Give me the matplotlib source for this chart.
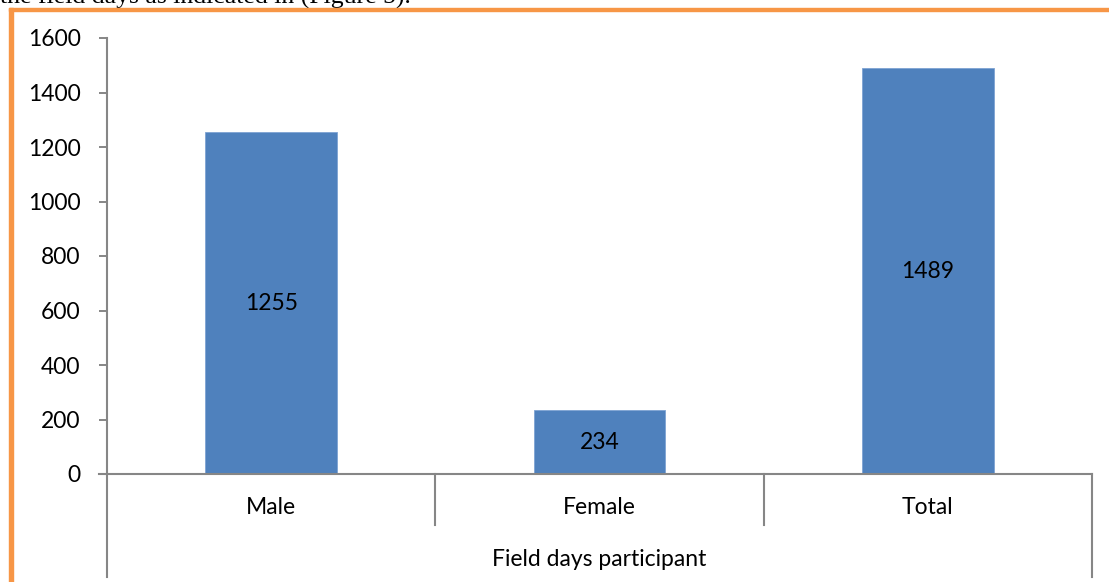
import matplotlib
matplotlib.use("Agg")
import matplotlib.pyplot as plt
from matplotlib.patches import Rectangle
from matplotlib.lines import Line2D
import matplotlib.transforms as mtransforms

categories = ["Male", "Female", "Total"]
values = [1255, 234, 1489]
group_label = "Field days participant"
yticks = [0, 200, 400, 600, 800, 1000, 1200, 1400, 1600]

W, H = 1109, 582
fig = plt.figure(figsize=(W / 100, H / 100), dpi=100)
fig.patch.set_facecolor("white")

FONT = ["Lato", "DejaVu Sans"]
FS = 16.5
GREY = "#868686"

def fx(px):
    return px / W

def fy(py):
    return 1 - py / H

ax = fig.add_axes([fx(107), fy(474), fx(1092) - fx(107), fy(38) - fy(474)])
x = list(range(len(categories)))
ax.bar(x, values, width=0.4, color="#4F81BD", edgecolor="#7EA3D3", linewidth=0.6, zorder=2)
ax.set_xlim(-0.5, len(categories) - 0.5)
ax.set_ylim(0, 1600)
ax.set_yticks(yticks)
ax.set_yticklabels([str(t) for t in yticks], fontsize=FS, family=FONT)
ax.tick_params(axis="y", direction="out", length=6, width=1.4, color=GREY, pad=13)
ax.set_xticks([])
for s in ["top", "right"]:
    ax.spines[s].set_visible(False)
for s in ["left", "bottom"]:
    ax.spines[s].set_color(GREY)
    ax.spines[s].set_linewidth(1.5)
ax.spines["bottom"].set_bounds(-0.5 - 0.025, len(categories) - 0.5)

for xi, v in zip(x, values):
    ax.text(xi, v / 2, str(v), ha="center", va="center", fontsize=FS, family=FONT, zorder=3)

# multi-level category axis lines
trans = mtransforms.blended_transform_factory(ax.transData, fig.transFigure)
n = len(categories)
for b in range(n + 1):
    xb = b - 0.5
    bottom = fy(577) if b in (0, n) else fy(525)
    ax.add_line(Line2D([xb, xb], [fy(474), bottom], transform=trans, color=GREY,
                       linewidth=1.5, clip_on=False))
for xi, c in zip(x, categories):
    ax.text(xi, fy(508), c, transform=trans, ha="center", va="center", fontsize=FS, family=FONT)
ax.text((n - 1) / 2, fy(560), group_label, transform=trans, ha="center", va="center",
        fontsize=FS, family=FONT)

# orange frame (top and left)
ORANGE = "#F79646"
fig.patches.append(Rectangle((fx(9), fy(11)), 1 - fx(9), fy(8) - fy(11), transform=fig.transFigure,
                             color=ORANGE, zorder=5))
fig.patches.append(Rectangle((fx(9), 0), fx(13) - fx(9), fy(8), transform=fig.transFigure,
                             color=ORANGE, zorder=5))

# cropped running text at top
fig.text(fx(0), fy(4), "the field days as indicated in (Figure 5).", ha="left", va="baseline",
         fontsize=18.5, family=["Liberation Serif", "DejaVu Serif"])

fig.savefig("out.png", dpi=100)
